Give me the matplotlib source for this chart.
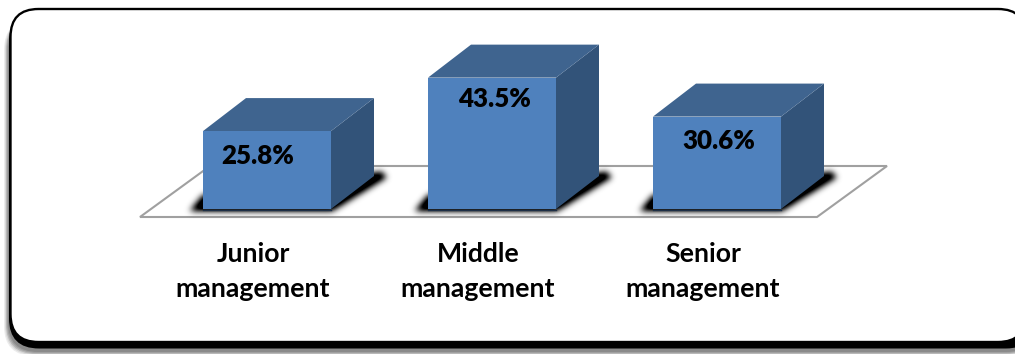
import matplotlib
matplotlib.use('Agg')
import matplotlib.pyplot as plt
import numpy as np
from matplotlib.patches import FancyBboxPatch, Polygon
from matplotlib.path import Path

categories = ['Junior\nmanagement', 'Middle\nmanagement', 'Senior\nmanagement']
values = [25.8, 43.5, 30.6]
value_labels = ['25.8%', '43.5%', '30.6%']
# label nudges, in pixels from the bar centre and bar top
label_dx = [-9, 2, 2]
label_dy = [25, 21, 24]

plt.rcParams['font.family'] = ['Lato', 'DejaVu Sans']

W, H = 1015, 354
fig = plt.figure(figsize=(W / 100, H / 100), dpi=100, facecolor='white')

# frame layer works in pixels, y going down
bg = fig.add_axes([0, 0, 1, 1])
bg.set_xlim(0, W)
bg.set_ylim(H, 0)
bg.axis('off')


def rounded(ax, x0, y0, x1, y1, r, **kw):
    p = FancyBboxPatch((x0 + r, y0 + r), x1 - x0 - 2 * r, y1 - y0 - 2 * r,
                       boxstyle='round,pad=%f,rounding_size=%f' % (r, r), **kw)
    ax.add_patch(p)
    return p


# grey shadow behind the frame, then the heavy black lower edge
for i, g in enumerate(['#ececec', '#d8d8d8', '#b8b8b8', '#a0a0a0', '#8a8a8a']):
    rounded(bg, 4 + i, 20, 1036, 356 - i, 30, fc=g, ec='none')
rounded(bg, 9, 12, 1036, 348.5, 30, fc='black', ec='none')
rounded(bg, 10.5, 9, 1026, 342, 28, fc='white', ec='black', lw=1.7)

# chart layer: x in category positions, y in percent
base_px, px_per_pct = 209, 3.02
bar_spacing = 225
x_at_first = 267
ax = fig.add_axes([0, 0, 1, 1])
ax.patch.set_alpha(0)
xlim = (-x_at_first / bar_spacing, (W - x_at_first) / bar_spacing)
ylim = ((base_px - H) / px_per_pct, base_px / px_per_pct)
ax.set_xlim(xlim)
ax.set_ylim(ylim)
ax.axis('off')

bar_w = 128 / bar_spacing
dx = 43 / bar_spacing
dy = 33 / px_per_pct


def to_x(px):
    return (px - x_at_first) / bar_spacing


def to_y(py):
    return (base_px - py) / px_per_pct


def blur(a, sigma):
    t = np.arange(-int(3 * sigma), int(3 * sigma) + 1)
    k = np.exp(-t ** 2 / (2 * sigma ** 2))
    k /= k.sum()
    a = np.apply_along_axis(lambda r: np.convolve(r, k, mode='same'), 0, a)
    return np.apply_along_axis(lambda r: np.convolve(r, k, mode='same'), 1, a)


# floor plane
floor = [(to_x(140), to_y(217)), (to_x(817), to_y(217)),
         (to_x(887), to_y(166)), (to_x(210), to_y(166))]
ax.add_patch(Polygon(floor, closed=True, fc='white', ec='#a0a0a0', lw=1.5, zorder=1))

xs = np.arange(len(values))

# blurred contact shadows, rasterised once over the whole canvas
px, py = np.meshgrid(np.arange(W) + 0.5, np.arange(H) + 0.5)
grid = np.column_stack([px.ravel(), py.ravel()])
mask = np.zeros((H, W))
for x in xs:
    L = x_at_first + (x - bar_w / 2) * bar_spacing
    R = x_at_first + (x + bar_w / 2) * bar_spacing
    shape = Path([(L - 13, 211), (R + 1, 211), (R + 56, 177), (R + 50, 172), (L, 195)])
    mask[shape.contains_points(grid).reshape(H, W)] = 1
mask = np.clip(blur(mask, 3.2) * 1.3, 0, 1)
rgba = np.zeros((H, W, 4))
rgba[..., 3] = mask
ax.imshow(rgba, extent=(*xlim, *ylim), origin='upper', aspect='auto', zorder=2,
          interpolation='bilinear')
ax.set_xlim(xlim)
ax.set_ylim(ylim)

for i, (x, v) in enumerate(zip(xs, values)):
    left = x - bar_w / 2
    right = x + bar_w / 2

    # the three visible faces of the box
    ax.add_patch(Polygon([(right, 0), (right + dx, dy), (right + dx, v + dy), (right, v)],
                         closed=True, fc='#325379', ec='none', zorder=3))
    ax.add_patch(Polygon([(left, v), (right, v), (right + dx, v + dy), (left + dx, v + dy)],
                         closed=True, fc='#3f648f', ec='none', zorder=3))
    ax.bar(x, v, width=bar_w, color='#4f81bd', zorder=4)
    ax.plot([left, right], [-0.2, -0.2], color='#1d2f46', lw=1, zorder=5)

    ax.text(x + label_dx[i] / bar_spacing, v - label_dy[i] / px_per_pct, value_labels[i],
            ha='center', va='center', fontsize=18.6, fontweight='heavy', color='black', zorder=6)

for x, c in zip(xs, categories):
    top, bottom = c.split('\n')
    ax.text(x - 14 / bar_spacing, to_y(254.5), top, ha='center', va='center', fontsize=19.2,
            fontweight='bold', color='black', zorder=6)
    ax.text(x - 14 / bar_spacing, to_y(289), bottom, ha='center', va='center', fontsize=19.2,
            fontweight='bold', color='black', zorder=6)

fig.savefig('out.png', dpi=100, facecolor='white')
